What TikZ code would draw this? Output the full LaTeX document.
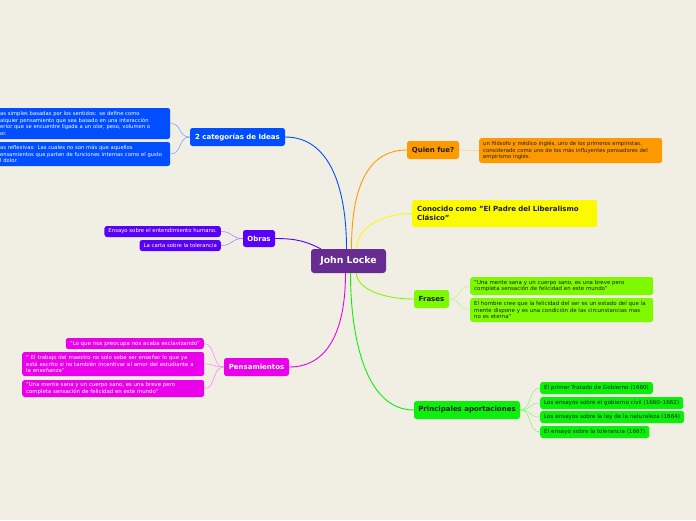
\documentclass[tikz,border=0pt]{standalone}
\usepackage{fontspec}
\setmainfont{DejaVu Sans}
\usetikzlibrary{calc}
\definecolor{bg}{RGB}{241,239,227}
\definecolor{rootc}{RGB}{102,44,145}
\definecolor{bluec}{RGB}{0,78,255}
\definecolor{bluel}{RGB}{130,165,255}
\definecolor{violetc}{RGB}{88,0,250}
\definecolor{violetl}{RGB}{170,130,255}
\definecolor{magc}{RGB}{235,0,235}
\definecolor{magl}{RGB}{245,140,245}
\definecolor{orangec}{RGB}{255,153,0}
\definecolor{orangel}{RGB}{255,205,130}
\definecolor{yellowc}{RGB}{252,250,0}
\definecolor{limec}{RGB}{125,250,0}
\definecolor{limel}{RGB}{190,250,140}
\definecolor{greenc}{RGB}{10,240,10}
\definecolor{greenl}{RGB}{140,245,140}
\definecolor{darktext}{RGB}{30,30,30}
\begin{document}
\begin{tikzpicture}[x=1pt,y=-1pt,
  box/.style={rounded corners=2.5pt, inner xsep=4pt, inner ysep=2pt, align=left},
  small/.style={box, font=\fontsize{5.45}{6.8}\selectfont},
  big/.style={box, font=\fontsize{7}{9}\selectfont\bfseries, minimum height=18pt, inner xsep=5pt},
  main/.style={line width=0.9pt},
  sub/.style={line width=0.6pt}]
\fill[bg] (0,0) rectangle (696,520);
\useasboundingbox (0,0) rectangle (696,520);
\clip (0,0) rectangle (696,520);

% root
\node[fill=rootc, text=white, font=\fontsize{9.3}{11}\selectfont\bfseries, rounded corners=3pt, minimum width=75pt, minimum height=24pt] (root) at (348.5,261) {John Locke};

% 2 categorias
\node[big, fill=bluec, text=white, minimum width=95pt, inner xsep=4pt] (cat) at (237.5,137) {2 categorías de Ideas};
\node[small, fill=bluec, text=white, anchor=west, text width=166pt, minimum height=31pt, font=\fontsize{5.25}{6.8}\selectfont] (cat1) at (-4,123.5) {as simples basadas por los sentidos: se define como\\alquier pensamiento que sea basado en una interacción\\erior que se encuentre ligada a un olor, peso, volumen o\\or.};
\node[small, fill=bluec, text=white, anchor=west, text width=166pt, minimum height=24pt, font=\fontsize{5.25}{6.8}\selectfont] (cat2) at (-4,154) {as reflexivas: Las cuales no son más que aquellos\\ensamientos que parten de funciones internas como el gusto\\l dolor.};

% Obras
\node[big, fill=violetc, text=white, minimum height=17pt, minimum width=32pt, inner xsep=4pt] (obras) at (259,238.5) {Obras};
\node[small, fill=violetc, text=white, anchor=east, minimum height=11pt, inner ysep=1pt, font=\fontsize{5.35}{6.8}\selectfont] (o1) at (221,231.5) {Ensayo sobre el entendimiento humano.};
\node[small, fill=violetc, text=white, anchor=east, minimum height=11pt, inner ysep=1pt, font=\fontsize{5.35}{6.8}\selectfont] (o2) at (221,245.5) {La carta sobre la tolerancia};

% Pensamientos
\node[big, fill=magc, text=white, minimum width=65pt, inner xsep=4pt] (pens) at (256.5,367) {Pensamientos};
\node[small, fill=magc, text=white, anchor=east, minimum height=11pt, inner ysep=1pt, font=\fontsize{5.5}{6.8}\selectfont] (p1) at (204,343.5) {"Lo que nos preocupa nos acaba esclavizando"};
\node[small, fill=magc, text=white, anchor=west, text width=174pt, minimum height=24pt, font=\fontsize{5.4}{6.8}\selectfont] (p2) at (22,364) {" El trabajo del maestro no solo sebe ser enseñar lo que ya\\está escrito si no también incentivar el amor del estudiante a\\la enseñanza"};
\node[small, fill=magc, text=white, anchor=west, text width=174pt, minimum height=17pt, font=\fontsize{5.4}{6.8}\selectfont] (p3) at (22,388.5) {"Una mente sana y un cuerpo sano, es una breve pero\\completa sensación de felicidad en este mundo"};

% Quien fue
\node[big, fill=orangec, text=darktext, minimum width=52pt, inner xsep=4pt] (quien) at (433,150) {Quien fue?};
\node[small, fill=orangec, text=darktext, anchor=west, text width=175pt, minimum height=25pt, font=\fontsize{5.3}{6.8}\selectfont] (q1) at (479,150.5) {un filósofo y médico inglés, uno de los primeros empiristas,\\considerado como uno de los más influyentes pensadores del\\empirismo inglés.};

% Conocido
\node[big, fill=yellowc, text=darktext, anchor=west, text width=175pt, minimum height=27pt] (conoc) at (412,213.5) {Conocido como "El Padre del Liberalismo\\Clásico"};

% Frases
\node[big, fill=limec, text=darktext, minimum width=35pt, inner xsep=4pt] (frases) at (431.5,299) {Frases};
\node[small, fill=limec, text=darktext, anchor=west, text width=175pt, minimum height=18pt] (f1) at (470,286) {"Una mente sana y un cuerpo sano, es una breve pero\\completa sensación de felicidad en este mundo"};
\node[small, fill=limec, text=darktext, anchor=west, text width=175pt, minimum height=24pt] (f2) at (470,310) {El hombre cree que la felicidad del ser es un estado del que la\\mente dispone y es una condición de las circunstancias mas\\no es eterna"};

% Principales aportaciones
\node[big, fill=greenc, text=darktext, minimum width=106pt, inner xsep=4pt] (princ) at (467,410) {Principales aportaciones};
\node[small, fill=greenc, text=darktext, anchor=west, minimum height=12pt, inner ysep=1pt, font=\fontsize{5.6}{6.8}\selectfont] (a1) at (540,388) {El primer Tratado de Gobierno (1660)};
\node[small, fill=greenc, text=darktext, anchor=west, minimum height=12pt, inner ysep=1pt, font=\fontsize{5.6}{6.8}\selectfont] (a2) at (540,403) {Los ensayos sobre el gobierno civil (1660–1662)};
\node[small, fill=greenc, text=darktext, anchor=west, minimum height=12pt, inner ysep=1pt, font=\fontsize{5.6}{6.8}\selectfont] (a3) at (540,417) {Los ensayos sobre la ley de la naturaleza (1664)};
\node[small, fill=greenc, text=darktext, anchor=west, minimum height=12pt, inner ysep=1pt, font=\fontsize{5.6}{6.8}\selectfont] (a4) at (540,432) {El ensayo sobre la tolerancia (1667)};

% main connectors
\draw[main, bluec] (cat.east) .. controls +(45,0) and +(0,-60) .. ($(root.north)+(-2,0)$);
\draw[main, violetc] (obras.east) .. controls +(22,0) and +(-14,-7) .. ($(root.north west)+(10,0)$);
\draw[main, magc] (pens.east) .. controls +(40,0) and +(0,55) .. ($(root.south)+(-3,0)$);
\draw[main, orangec] (quien.west) .. controls +(-40,0) and +(0,-60) .. ($(root.north)+(3,0)$);
\draw[main, yellowc] (conoc.west) .. controls +(-32,0) and +(0,-20) .. ($(root.north)+(8,0)$);
\draw[main, limec] (frases.west) .. controls +(-32,0) and +(0,15) .. ($(root.south)+(8,0)$);
\draw[main, greenc] (princ.west) .. controls +(-48,0) and +(0,65) .. ($(root.south)+(2,0)$);

% child connectors
\foreach \c in {cat1,cat2} \draw[sub, bluel] (cat.west) .. controls +(-12,0) and +(12,0) .. (\c.east);
\foreach \c in {o1,o2} \draw[sub, violetl] (obras.west) .. controls +(-12,0) and +(12,0) .. (\c.east);
\foreach \c in {p1,p2,p3} \draw[sub, magl] (pens.west) .. controls +(-12,0) and +(12,0) .. (\c.east);
\draw[sub, orangel] (quien.east) -- (q1.west);
\foreach \c in {f1,f2} \draw[sub, limel] (frases.east) .. controls +(12,0) and +(-12,0) .. (\c.west);
\foreach \c in {a1,a2,a3,a4} \draw[sub, greenl] (princ.east) .. controls +(12,0) and +(-12,0) .. (\c.west);
\end{tikzpicture}
\end{document}
